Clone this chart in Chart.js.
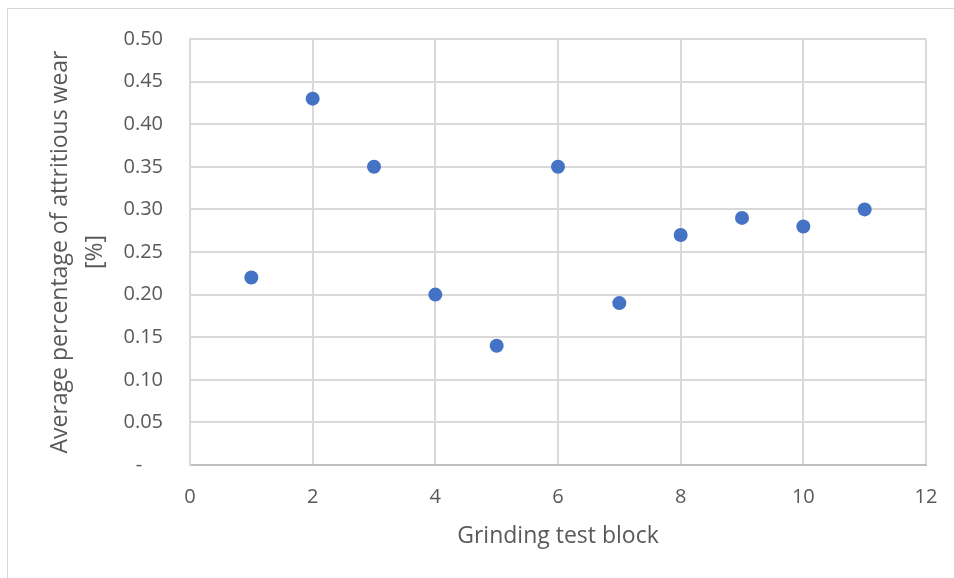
<!DOCTYPE html>
<html>
<head>
<meta charset="utf-8">
<script src="https://cdn.jsdelivr.net/npm/chart.js@4.4.1/dist/chart.umd.min.js"></script>
<style>
  html, body { margin: 0; padding: 0; background: #fff; }
  #wrap { position: relative; width: 954px; height: 578px; overflow: hidden; }
  #frame { position: absolute; left: 7px; top: 8px; width: 960px; height: 580px; border: 1px solid #d9d9d9; box-sizing: border-box; }
  #chart { position: absolute; left: 0; top: 0; }
</style>
</head>
<body>
<div id="wrap">
  <div id="frame"></div>
  <canvas id="chart" width="954" height="578"></canvas>
</div>
<script>
// data
var testBlocks = [1, 2, 3, 4, 5, 6, 7, 8, 9, 10, 11];
var wearValues = [0.22, 0.43, 0.35, 0.20, 0.14, 0.35, 0.19, 0.27, 0.29, 0.28, 0.30];
var xTitle = 'Grinding test block';
var yTitle = ['Average percentage of attritious wear', '[%]'];

var textColor = '#595959';
var gridColor = '#d9d9d9';
var fontFamily = '"Open Sans", "Noto Sans", sans-serif';

var points = testBlocks.map(function(x, i) {
  return { x: x, y: wearValues[i] };
});

new Chart(document.getElementById('chart').getContext('2d'), {
  type: 'scatter',
  data: {
    datasets: [{
      data: points,
      backgroundColor: '#4472c4',
      borderColor: '#4472c4',
      borderWidth: 0,
      pointRadius: 7,
      pointHoverRadius: 7
    }]
  },
  options: {
    responsive: false,
    animation: false,
    layout: { padding: { left: 0, top: 37, right: 28, bottom: 0 } },
    plugins: {
      legend: { display: false },
      tooltip: { enabled: false }
    },
    scales: {
      x: {
        type: 'linear',
        min: 0,
        max: 12,
        afterFit: function(s) { s.height = 113; s.paddingRight = 0; },
        ticks: {
          stepSize: 2,
          padding: 20,
          color: textColor,
          font: { family: fontFamily, size: 20 }
        },
        grid: { color: gridColor, lineWidth: 2, drawTicks: false },
        border: { color: '#bfbfbf', width: 2 },
        title: {
          display: true,
          text: xTitle,
          color: textColor,
          font: { family: fontFamily, size: 23 },
          padding: { top: 0, bottom: 28 }
        }
      },
      y: {
        type: 'linear',
        min: 0,
        max: 0.5,
        afterFit: function(s) { s.width = 190; },
        ticks: {
          stepSize: 0.05,
          padding: 27,
          color: textColor,
          font: { family: fontFamily, size: 20 },
          callback: function(v) {
            return Math.abs(v) < 1e-9 ? '-    ' : v.toFixed(2);
          }
        },
        grid: { color: gridColor, lineWidth: 2, drawTicks: false },
        border: { color: gridColor, width: 2 },
        title: {
          display: true,
          text: yTitle,
          color: textColor,
          font: { family: fontFamily, size: 23, lineHeight: '35px' },
          padding: { top: 43, bottom: 0 }
        }
      }
    }
  }
});
</script>
</body>
</html>
